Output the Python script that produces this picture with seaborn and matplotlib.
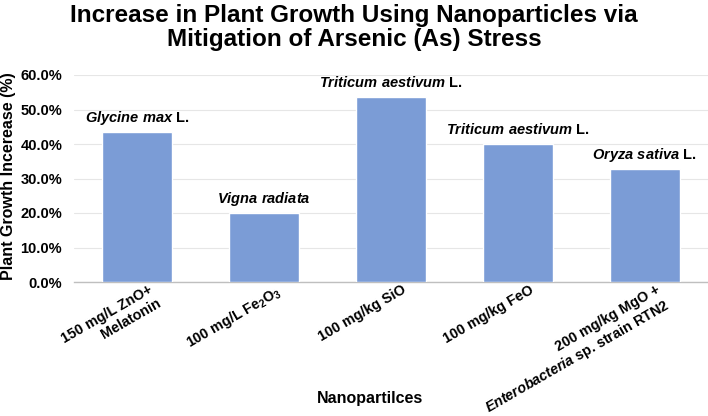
import matplotlib
matplotlib.use("Agg")
import matplotlib.pyplot as plt
import matplotlib.transforms as mtransforms
import seaborn as sns
import pandas as pd
from matplotlib.ticker import PercentFormatter

categories = ["150 mg/L ZnO+\nMelatonin", "100 mg/L Fe$_2$O$_3$", "100 mg/kg SiO",
              "100 mg/kg FeO", "200 mg/kg MgO +\n$\\it{Enterobacteria}$ sp. strain RTN2"]
values = [0.436, 0.200, 0.537, 0.400, 0.327]
plants = ["$\\it{Glycine\\ max}$ L.", "$\\it{Vigna\\ radiata}$", "$\\it{Triticum\\ aestivum}$ L.",
          "$\\it{Triticum\\ aestivum}$ L.", "$\\it{Oryza\\ sativa}$ L."]
yticks = [0, 0.1, 0.2, 0.3, 0.4, 0.5, 0.6]

sns.set_theme(style="white")
plt.rcParams["font.family"] = ["Liberation Sans", "DejaVu Sans"]
plt.rcParams["mathtext.fontset"] = "custom"
plt.rcParams["mathtext.it"] = "Liberation Sans:italic:bold"
plt.rcParams["mathtext.rm"] = "Liberation Sans:bold"
plt.rcParams["mathtext.bf"] = "Liberation Sans:bold"
for k in ["text.color", "axes.labelcolor", "xtick.color", "ytick.color"]:
    plt.rcParams[k] = "black"

df = pd.DataFrame({"cat": categories, "val": values})

fig = plt.figure(figsize=(7.08, 4.16), dpi=100)
ax = fig.add_axes([74 / 708, 1 - 282 / 416, 634 / 708, 207 / 416])
sns.barplot(data=df, x="cat", y="val", color="#7B9CD6", saturation=1, width=0.553,
            ax=ax, zorder=3)

ax.set_ylim(0, 0.6)
ax.set_yticks(yticks)
ax.yaxis.set_major_formatter(PercentFormatter(1.0, decimals=1))
ax.grid(axis="y", color="#E6E6E6", linewidth=0.8, zorder=0)
for s in ["top", "right", "left"]:
    ax.spines[s].set_visible(False)
ax.spines["bottom"].set_color("#BFBFBF")
ax.spines["bottom"].set_linewidth(1.0)
ax.tick_params(axis="y", length=0, labelsize=10.5, pad=8.5)
for t in ax.get_yticklabels():
    t.set_fontweight("bold")

ax.set_xticks(range(len(categories)))
ax.set_xticklabels(categories, rotation=30, ha="right", va="top", rotation_mode="anchor",
                   fontweight="bold", fontsize=10.3, linespacing=1.12)
ax.tick_params(axis="x", length=0, pad=0.5)
shift = mtransforms.ScaledTranslation(11 / 100, 0, fig.dpi_scale_trans)
for lab in ax.get_xticklabels():
    lab.set_transform(lab.get_transform() + shift)

for i, (v, p) in enumerate(zip(values, plants)):
    ax.annotate(p, (i, v), xytext=(0, 10), textcoords="offset pixels",
                ha="center", va="baseline", fontsize=10.5, fontweight="bold")

ax.set_xlabel("Nanopartilces", fontsize=11.5, fontweight="bold")
ax.xaxis.set_label_coords((370 - 74) / 634, -(398 - 282) / 207)
ax.xaxis.label.set_va("center")
ax.set_ylabel("Plant Growth Incerease (%)", fontsize=11.5, fontweight="bold")
ax.yaxis.set_label_coords(-(74 - 9) / 634, (282 - 176) / 207)
ax.yaxis.label.set_va("center")

fig.text(0.5, 1 - 4 / 416, "Increase in Plant Growth Using Nanoparticles via\nMitigation of Arsenic (As) Stress",
         ha="center", va="top", fontsize=17.5, fontweight="bold", linespacing=1.05)

fig.savefig("out.png", dpi=100)
